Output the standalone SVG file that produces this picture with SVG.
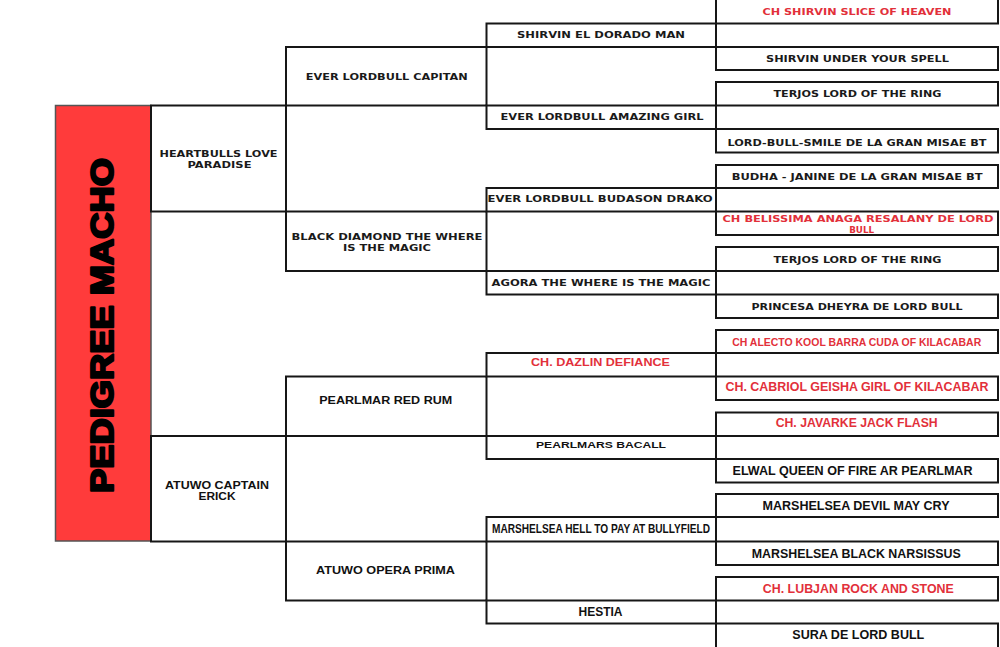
<svg xmlns="http://www.w3.org/2000/svg" width="1000" height="647" viewBox="0 0 1000 647">
<style>
.b{fill:#fff;stroke:#161616;stroke-width:2}
.t{font-family:"DejaVu Sans",Verdana,sans-serif;font-weight:bold;font-size:8.5px;fill:#1a1a1a;text-anchor:middle}
.a{font-family:"Liberation Sans",Arial,sans-serif;font-weight:bold;fill:#111;text-anchor:middle}
.r{fill:#e2303a}
</style>
<rect x="0" y="0" width="1000" height="647" fill="#fff"/>

<g id="title">
<rect x="55.5" y="105.5" width="95.5" height="435.5" fill="#ff3b3b" stroke="#555" stroke-width="1.5"/>
<text transform="translate(112.5,325.5) rotate(-90)" x="0" y="0" font-family="Liberation Sans, Arial, sans-serif" font-weight="900" font-size="31" fill="#000" stroke="#000" stroke-width="2.2" stroke-linejoin="round" text-anchor="middle" textLength="335" lengthAdjust="spacingAndGlyphs">PEDIGREE MACHO</text>
</g>

<g id="col1-sire">
<rect class="b" x="151" y="105.5" width="135" height="106"/>
<text class="t" x="218.5" y="157" textLength="118" lengthAdjust="spacingAndGlyphs">HEARTBULLS LOVE</text>
<text class="t" x="219.5" y="168" textLength="64" lengthAdjust="spacingAndGlyphs">PARADISE</text>
</g>
<g id="col1-dam">
<rect class="b" x="151" y="436" width="135" height="105.5"/>
<text class="a" font-size="10" x="217" y="489" textLength="104" lengthAdjust="spacingAndGlyphs">ATUWO CAPTAIN</text>
<text class="a" font-size="10" x="217" y="499.5" textLength="37" lengthAdjust="spacingAndGlyphs">ERICK</text>
</g>

<g id="col2-1">
<rect class="b" x="286" y="47" width="200.5" height="58.5"/>
<text class="t" x="386.8" y="80" textLength="162" lengthAdjust="spacingAndGlyphs">EVER LORDBULL CAPITAN</text>
</g>
<g id="col2-2">
<rect class="b" x="286" y="211.5" width="200.5" height="59.5"/>
<text class="t" x="387" y="240" textLength="191" lengthAdjust="spacingAndGlyphs">BLACK DIAMOND THE WHERE</text>
<text class="t" x="387" y="251" textLength="88" lengthAdjust="spacingAndGlyphs">IS THE MAGIC</text>
</g>
<g id="col2-3">
<rect class="b" x="286" y="376.5" width="200.5" height="59.5"/>
<text class="a" font-size="11" x="385.7" y="404" textLength="133" lengthAdjust="spacingAndGlyphs">PEARLMAR RED RUM</text>
</g>
<g id="col2-4">
<rect class="b" x="286" y="541.5" width="200.5" height="59"/>
<text class="a" font-size="11.5" x="385.5" y="574" textLength="139" lengthAdjust="spacingAndGlyphs">ATUWO OPERA PRIMA</text>
</g>

<g id="col3-1">
<rect class="b" x="486.5" y="23.5" width="229.5" height="23.5"/>
<text class="t" x="601" y="38.2" textLength="168" lengthAdjust="spacingAndGlyphs">SHIRVIN EL DORADO MAN</text>
</g>
<g id="col3-2">
<rect class="b" x="486.5" y="105.5" width="229.5" height="23.5"/>
<text class="t" x="602" y="119.8" textLength="203" lengthAdjust="spacingAndGlyphs">EVER LORDBULL AMAZING GIRL</text>
</g>
<g id="col3-3">
<rect class="b" x="486.5" y="188" width="229.5" height="23.5"/>
<text class="t" x="600" y="202.4" textLength="225" lengthAdjust="spacingAndGlyphs">EVER LORDBULL BUDASON DRAKO</text>
</g>
<g id="col3-4">
<rect class="b" x="486.5" y="271" width="229.5" height="23.5"/>
<text class="t" x="601" y="285.8" textLength="219" lengthAdjust="spacingAndGlyphs">AGORA THE WHERE IS THE MAGIC</text>
</g>
<g id="col3-5">
<rect class="b" x="486.5" y="353" width="229.5" height="23.5"/>
<text class="a r" font-size="10" x="600.5" y="365.6" textLength="139" lengthAdjust="spacingAndGlyphs">CH. DAZLIN DEFIANCE</text>
</g>
<g id="col3-6">
<rect class="b" x="486.5" y="436" width="229.5" height="23"/>
<text class="a" font-size="9.5" x="601" y="447.8" textLength="130" lengthAdjust="spacingAndGlyphs">PEARLMARS BACALL</text>
</g>
<g id="col3-7">
<rect class="b" x="486.5" y="517" width="229.5" height="24.5"/>
<text class="a" font-size="12.5" x="601" y="533" textLength="218" lengthAdjust="spacingAndGlyphs">MARSHELSEA HELL TO PAY AT BULLYFIELD</text>
</g>
<g id="col3-8">
<rect class="b" x="486.5" y="600.5" width="229.5" height="23"/>
<text class="a" font-size="13" x="600.5" y="616.4" textLength="44" lengthAdjust="spacingAndGlyphs">HESTIA</text>
</g>

<g id="col4-1">
<rect class="b" x="716" y="-2" width="282" height="25.5"/>
<text class="t r" x="857" y="14.8" textLength="189" lengthAdjust="spacingAndGlyphs">CH SHIRVIN SLICE OF HEAVEN</text>
</g>
<g id="col4-2">
<rect class="b" x="716" y="47" width="282" height="23"/>
<text class="t" x="857.5" y="62.4" textLength="183" lengthAdjust="spacingAndGlyphs">SHIRVIN UNDER YOUR SPELL</text>
</g>
<g id="col4-3">
<rect class="b" x="716" y="82" width="282" height="23.5"/>
<text class="t" x="857.5" y="97.4" textLength="168" lengthAdjust="spacingAndGlyphs">TERJOS LORD OF THE RING</text>
</g>
<g id="col4-4">
<rect class="b" x="716" y="129" width="282" height="23.5"/>
<text class="t" x="857" y="145.8" textLength="259" lengthAdjust="spacingAndGlyphs">LORD-BULL-SMILE DE LA GRAN MISAE BT</text>
</g>
<g id="col4-5">
<rect class="b" x="716" y="165" width="282" height="23"/>
<text class="t" x="857.2" y="180.4" textLength="251" lengthAdjust="spacingAndGlyphs">BUDHA - JANINE DE LA GRAN MISAE BT</text>
</g>
<g id="col4-6">
<rect class="b" x="716" y="211.5" width="282" height="23.5"/>
<text class="t r" x="858" y="222.1" textLength="271" lengthAdjust="spacingAndGlyphs">CH BELISSIMA ANAGA RESALANY DE LORD</text>
<text class="t r" x="861.7" y="233.1" textLength="25" lengthAdjust="spacingAndGlyphs">BULL</text>
</g>
<g id="col4-7">
<rect class="b" x="716" y="247" width="282" height="24"/>
<text class="t" x="857.5" y="263.1" textLength="168" lengthAdjust="spacingAndGlyphs">TERJOS LORD OF THE RING</text>
</g>
<g id="col4-8">
<rect class="b" x="716" y="294.5" width="282" height="23.5"/>
<text class="t" x="857" y="309.8" textLength="211" lengthAdjust="spacingAndGlyphs">PRINCESA DHEYRA DE LORD BULL</text>
</g>
<g id="col4-9">
<rect class="b" x="716" y="330" width="282" height="23"/>
<text class="a r" font-size="11" x="856.7" y="346.3" textLength="249" lengthAdjust="spacingAndGlyphs">CH ALECTO KOOL BARRA CUDA OF KILACABAR</text>
</g>
<g id="col4-10">
<rect class="b" x="716" y="376.5" width="282" height="23.5"/>
<text class="a r" font-size="13" x="857" y="390.7" textLength="263" lengthAdjust="spacingAndGlyphs">CH. CABRIOL GEISHA GIRL OF KILACABAR</text>
</g>
<g id="col4-11">
<rect class="b" x="716" y="412.5" width="282" height="23.5"/>
<text class="a r" font-size="12.5" x="856.7" y="427.2" textLength="162" lengthAdjust="spacingAndGlyphs">CH. JAVARKE JACK FLASH</text>
</g>
<g id="col4-12">
<rect class="b" x="716" y="459" width="282" height="23.5"/>
<text class="a" font-size="13.5" x="852.5" y="474.8" textLength="240" lengthAdjust="spacingAndGlyphs">ELWAL QUEEN OF FIRE AR PEARLMAR</text>
</g>
<g id="col4-13">
<rect class="b" x="716" y="494" width="282" height="23"/>
<text class="a" font-size="13.5" x="856" y="510.2" textLength="187" lengthAdjust="spacingAndGlyphs">MARSHELSEA DEVIL MAY CRY</text>
</g>
<g id="col4-14">
<rect class="b" x="716" y="541.5" width="282" height="23.5"/>
<text class="a" font-size="13.5" x="856.2" y="558.2" textLength="209" lengthAdjust="spacingAndGlyphs">MARSHELSEA BLACK NARSISSUS</text>
</g>
<g id="col4-15">
<rect class="b" x="716" y="577" width="282" height="23.5"/>
<text class="a r" font-size="13.5" x="858.3" y="593.2" textLength="191" lengthAdjust="spacingAndGlyphs">CH. LUBJAN ROCK AND STONE</text>
</g>
<g id="col4-16">
<rect class="b" x="716" y="623.5" width="282" height="26"/>
<text class="a" font-size="13" x="858.3" y="639" textLength="132" lengthAdjust="spacingAndGlyphs">SURA DE LORD BULL</text>
</g>
</svg>
